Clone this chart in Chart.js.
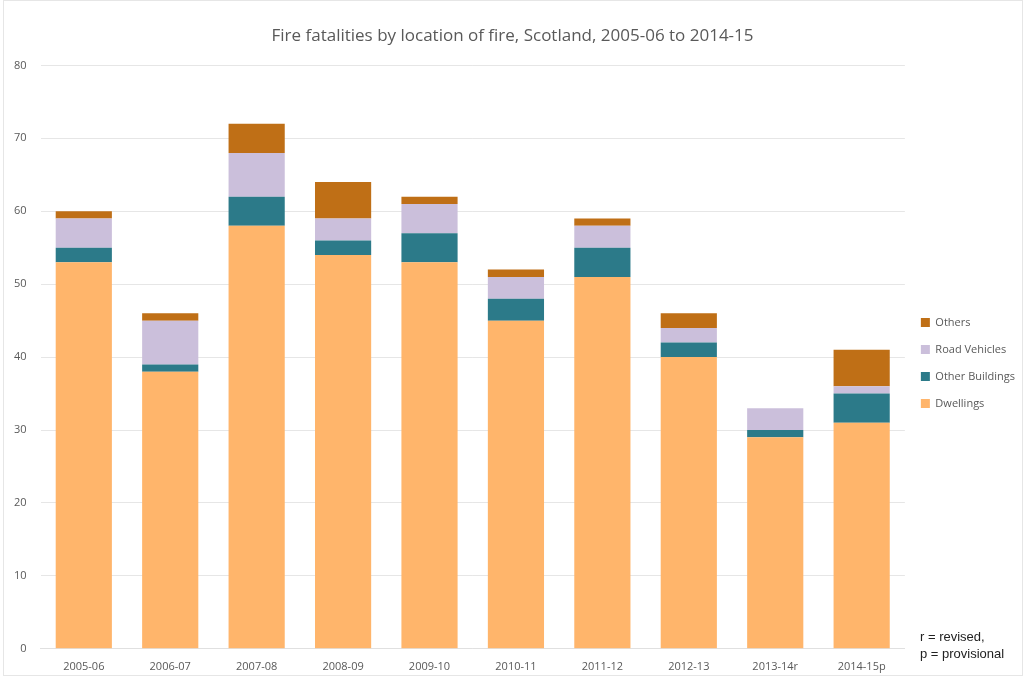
<!DOCTYPE html>
<html>
<head>
<meta charset="utf-8">
<script src="https://cdn.jsdelivr.net/npm/chart.js@4"></script>
<style>
  html, body { margin: 0; padding: 0; background: #fff; }
  #wrap { position: relative; width: 1025px; height: 679px; }
  #wrap::after { content: ''; position: absolute; left: 3px; top: 0; width: 1020px; height: 676px; border: 1px solid #e6e6e6; pointer-events: none; box-sizing: border-box; }
  #note { position: absolute; left: 920px; top: 628px; font: 13px "Liberation Sans", Arial, sans-serif; color: #222; line-height: 17px; }
</style>
</head>
<body>
<div id="wrap">
  <canvas id="chart" width="1025" height="679"></canvas>
  <div id="note">r = revised,<br>p = provisional</div>
</div>
<script>
const years = ['2005-06', '2006-07', '2007-08', '2008-09', '2009-10', '2010-11', '2011-12', '2012-13', '2013-14r', '2014-15p'];
const dwellings = [53, 38, 58, 54, 53, 45, 51, 40, 29, 31];
const otherBuildings = [2, 1, 4, 2, 4, 3, 4, 2, 1, 4];
const roadVehicles = [4, 6, 6, 3, 4, 3, 3, 2, 3, 1];
const others = [1, 1, 4, 5, 1, 1, 1, 2, 0, 5];

const font = '"Open Sans", sans-serif';

const data = {
    labels: years,
    datasets: [
        {label: 'Dwellings', data: dwellings, backgroundColor: '#ffb56b'},
        {label: 'Other Buildings', data: otherBuildings, backgroundColor: '#2c7a89'},
        {label: 'Road Vehicles', data: roadVehicles, backgroundColor: '#cbbfdb'},
        {label: 'Others', data: others, backgroundColor: '#bf6f16'}
    ]
};

const config = {
    type: 'bar',
    data: data,
    options: {
        responsive: false,
        animation: false,
        datasets: {bar: {barPercentage: 0.65, categoryPercentage: 1}},
        layout: {padding: {left: 0, right: 0, top: 18, bottom: 3}},
        plugins: {
            title: {
                display: true,
                text: 'Fire fatalities by location of fire, Scotland, 2005-06 to 2014-15',
                color: '#595959',
                font: {family: font, size: 17, weight: 'normal'},
                padding: {top: 8, bottom: 19}
            },
            legend: {
                position: 'right',
                reverse: true,
                title: {display: true, text: ' ', font: {size: 11}, padding: {top: 0, bottom: 19}},
                labels: {
                    color: '#595959',
                    font: {family: font, size: 11},
                    boxWidth: 9,
                    boxHeight: 9,
                    padding: 16
                }
            },
            tooltip: {enabled: false}
        },
        scales: {
            x: {
                stacked: true,
                grid: {display: false},
                border: {color: '#e0e0e0'},
                ticks: {color: '#595959', font: {family: font, size: 11}}
            },
            y: {
                stacked: true,
                min: 0,
                max: 80,
                ticks: {stepSize: 10, color: '#595959', font: {family: font, size: 11}, padding: 14},
                grid: {color: '#e6e6e6', drawTicks: false},
                border: {display: false}
            }
        }
    }
};

const chart = new Chart(document.getElementById('chart'), config);
</script>
</body>
</html>
